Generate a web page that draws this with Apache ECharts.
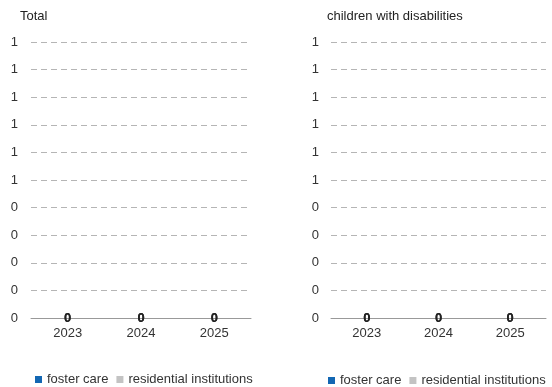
<!DOCTYPE html>
<html><head><meta charset="utf-8">
<script src="https://cdn.jsdelivr.net/npm/echarts@6/dist/echarts.min.js"></script>
<style>html,body{margin:0;padding:0;background:#fff}#c{width:552px;height:387px}</style>
</head><body><div id="c"></div>
<script>
const categories = ['2023', '2024', '2025'];
const seriesNames = ['foster care', 'residential institutions'];
const totalFoster = [0, 0, 0];
const totalResidential = [0, 0, 0];
const disabFoster = [0, 0, 0];
const disabResidential = [0, 0, 0];
const panelTitles = ['Total', 'children with disabilities'];
const yMin = 0, yMax = 1, yStep = 0.1;

const colors = ['#1367b3', '#c3c3c3'];
const font = 'Liberation Sans, Arial, sans-serif';

function yAxis(gi, margin) {
  return {
    type: 'value', gridIndex: gi, min: yMin, max: yMax, interval: yStep,
    axisLine: { show: false }, axisTick: { show: false },
    axisLabel: { color: '#333', fontSize: 13, fontFamily: font, margin: margin,
      formatter: v => String(Math.round(v + 1e-9)) },
    splitLine: { lineStyle: { color: '#b5b5b5', type: [6, 4], width: 1 } }
  };
}
function xAxis(gi) {
  return {
    type: 'category', gridIndex: gi, data: categories,
    axisLine: { lineStyle: { color: '#999', width: 1 } },
    axisTick: { show: false },
    axisLabel: { color: '#333', fontSize: 13, fontFamily: font, margin: 9 }
  };
}
function bar(name, data, gi, color) {
  return {
    type: 'bar', name: name, data: data, xAxisIndex: gi, yAxisIndex: gi,
    stack: 's' + gi, barWidth: '40%', itemStyle: { color: color },
    label: { show: true, position: 'inside', color: '#222', fontWeight: 'bold',
      fontSize: 13, fontFamily: font }
  };
}
const chart = echarts.init(document.getElementById('c'));
chart.setOption({
  animation: false,
  color: colors,
  title: [
    { text: panelTitles[0], left: 15, top: 5, textStyle: { fontSize: 13, fontWeight: 'normal', color: '#222', fontFamily: font } },
    { text: panelTitles[1], left: 322, top: 5, textStyle: { fontSize: 13, fontWeight: 'normal', color: '#222', fontFamily: font } }
  ],
  legend: [
    { data: seriesNames, left: 30, top: 368, icon: 'rect', itemWidth: 7, itemHeight: 7, itemGap: 8,
      textStyle: { fontSize: 13, color: '#333', fontFamily: font } },
    { data: seriesNames, left: 323, top: 369, icon: 'rect', itemWidth: 7, itemHeight: 7, itemGap: 8,
      textStyle: { fontSize: 13, color: '#333', fontFamily: font } }
  ],
  grid: [
    { left: 31, right: 301, top: 42, bottom: 69 },
    { left: 331, right: 6, top: 42, bottom: 69 }
  ],
  xAxis: [xAxis(0), xAxis(1)],
  yAxis: [yAxis(0, 13), yAxis(1, 12)],
  series: [
    bar(seriesNames[0], totalFoster, 0, colors[0]),
    bar(seriesNames[1], totalResidential, 0, colors[1]),
    bar(seriesNames[0], disabFoster, 1, colors[0]),
    bar(seriesNames[1], disabResidential, 1, colors[1])
  ]
});
</script></body></html>
